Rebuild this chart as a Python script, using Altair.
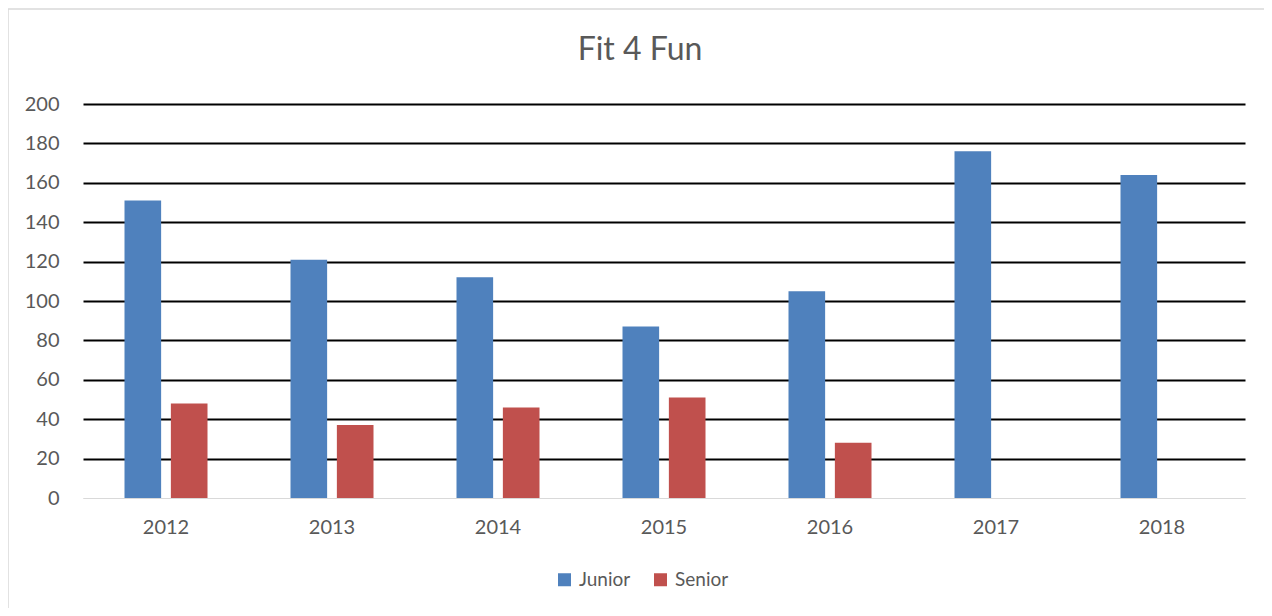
import altair as alt
import pandas as pd

years = ["2012", "2013", "2014", "2015", "2016", "2017", "2018"]
junior = [151, 121, 112, 87, 105, 176, 164]
senior = [48, 37, 46, 51, 28, None, None]
series = ["Junior", "Senior"]
colors = ["#4F81BD", "#C0504D"]

rows = []
for i, y in enumerate(years):
    rows.append({"Year": y, "Series": "Junior", "Value": junior[i]})
    if senior[i] is not None:
        rows.append({"Year": y, "Series": "Senior", "Value": senior[i]})
df = pd.DataFrame(rows)

FONT = "Lato"
GRAY = "#595959"
W, H = 1162, 394

bars = alt.Chart(df).mark_bar().encode(
    x=alt.X("Year:N", sort=years, title=None,
            scale=alt.Scale(paddingInner=0.5, paddingOuter=0.25),
            axis=alt.Axis(labelAngle=0, ticks=False, domainColor="#D9D9D9",
                          domainWidth=1, labelPadding=19, labelFontSize=20,
                          labelColor=GRAY, labelFont=FONT, grid=False)),
    xOffset=alt.XOffset("Series:N", sort=series,
                        scale=alt.Scale(paddingInner=0.21, paddingOuter=0)),
    y=alt.Y("Value:Q", title=None,
            scale=alt.Scale(domain=[0, 200]),
            axis=alt.Axis(values=list(range(0, 201, 20)), ticks=False, domain=False,
                          gridColor=alt.condition("datum.value == 0",
                                                  alt.value("#D9D9D9"),
                                                  alt.value("#000000")),
                          gridWidth=alt.condition("datum.value == 0",
                                                  alt.value(1), alt.value(2)),
                          gridOpacity=1,
                          labelPadding=24, labelFontSize=20, labelColor=GRAY,
                          labelFont=FONT)),
    color=alt.Color("Series:N", sort=series,
                    scale=alt.Scale(domain=series, range=colors),
                    legend=alt.Legend(title=None, orient="none", direction="horizontal",
                                      legendX=472, legendY=466,
                                      symbolType="square", symbolSize=169,
                                      symbolStrokeWidth=0, labelFontSize=19,
                                      labelColor=GRAY, labelFont=FONT,
                                      columnPadding=20, labelOffset=5)),
)

border = alt.Chart(alt.Data(values=[{}])).mark_rule(color="#D9D9D9", strokeWidth=1.5).encode(
    x=alt.value(-75), y=alt.value(-95), y2=alt.value(H + 110)
)
border_top = alt.Chart(alt.Data(values=[{}])).mark_rule(color="#D9D9D9", strokeWidth=1.5).encode(
    x=alt.value(-75), x2=alt.value(W + 19), y=alt.value(-95)
)

chart = alt.layer(bars, border, border_top).properties(
    width=W,
    height=H,
    title=alt.TitleParams("Fit 4 Fun", fontSize=32, font=FONT, color=GRAY,
                          fontWeight="normal", offset=-59, dx=-24, anchor="middle"),
    autosize=alt.AutoSizeParams(type="none"),
    padding={"left": 75, "top": 96, "right": 19, "bottom": 110},
).configure_view(stroke=None)

chart.save("out.html", embed_options={"renderer": "svg", "actions": False})
